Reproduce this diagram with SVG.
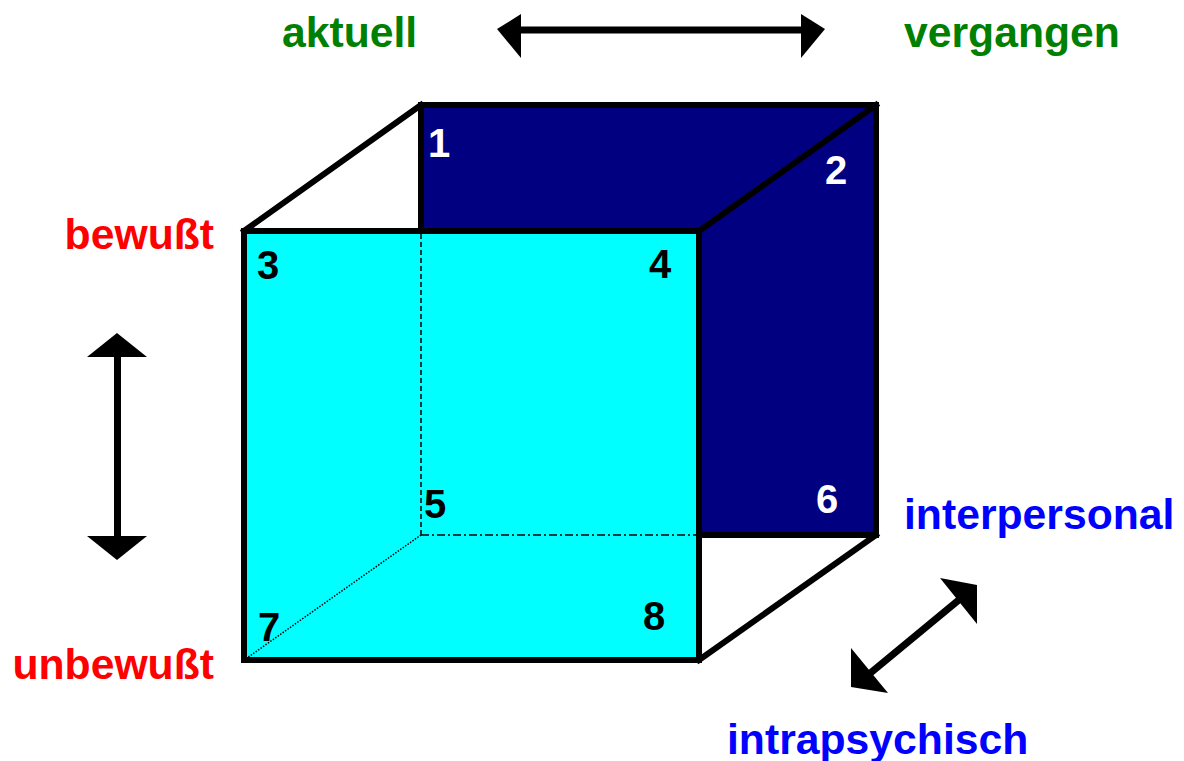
<svg xmlns="http://www.w3.org/2000/svg" width="1184" height="761" viewBox="0 0 1184 761">
<style>
.lbl{font-family:"Liberation Sans",Arial,sans-serif;font-weight:bold;font-size:42.7px}
.num{font-family:"Liberation Sans",Arial,sans-serif;font-weight:bold;font-size:40px;text-anchor:middle}
.edge{stroke:#000;stroke-width:6;fill:none;stroke-linejoin:miter;stroke-linecap:square}
.hid{stroke:#000;stroke-width:1.5;fill:none}
.arr{fill:#000}
.shaft{stroke:#000;stroke-width:7}
</style>
<rect width="1184" height="761" fill="#fff"/>
<g id="back-face">
<rect x="421" y="105" width="455" height="430" fill="#000080" stroke="#000" stroke-width="6"/>
</g>
<g id="front-face">
<rect x="244" y="231" width="455" height="429" fill="#00FFFF" stroke="#000" stroke-width="6"/>
</g>
<g id="connectors">
<line class="edge" x1="244" y1="231" x2="421" y2="105"/>
<line class="edge" x1="699" y1="231" x2="876" y2="105"/>
<line class="edge" x1="699" y1="660" x2="876" y2="535"/>
<line class="hid" x1="421" y1="234" x2="421" y2="535" stroke-dasharray="5,3"/>
<line class="hid" x1="421" y1="535" x2="696" y2="535" stroke-dasharray="8,3,2,3"/>
<line class="hid" x1="421" y1="535" x2="247" y2="658" stroke-dasharray="1.5,1.5"/>
</g>
<g id="arrow-horizontal">
<line class="shaft" x1="518" y1="30" x2="804" y2="30"/>
<polygon class="arr" points="497,29 521,14 521,58"/>
<polygon class="arr" points="825,29 801,14 801,58"/>
</g>
<g id="arrow-vertical">
<line class="shaft" x1="117.5" y1="354" x2="117.5" y2="539"/>
<polygon class="arr" points="117,333 87,357 147,357"/>
<polygon class="arr" points="117,560 87,536 147,536"/>
</g>
<g id="arrow-diagonal">
<line class="shaft" x1="960" y1="599" x2="868" y2="675"/>
<polygon class="arr" points="977,585 940,578 977,624"/>
<polygon class="arr" points="851,687 851,648 888,693"/>
</g>
<g id="labels">
<text class="lbl" x="282" y="47" fill="#008000">aktuell</text>
<text class="lbl" x="904" y="47" fill="#008000">vergangen</text>
<text class="lbl" x="214" y="249" fill="#FF0000" text-anchor="end">bewußt</text>
<text class="lbl" x="214" y="679" fill="#FF0000" text-anchor="end">unbewußt</text>
<text class="lbl" x="904" y="529" fill="#0000FF">interpersonal</text>
<text class="lbl" x="727" y="754" fill="#0000FF">intrapsychisch</text>
</g>
<g id="numbers">
<text class="num" x="439" y="157" fill="#fff">1</text>
<text class="num" x="836" y="184" fill="#fff">2</text>
<text class="num" x="268" y="279" fill="#000">3</text>
<text class="num" x="660" y="278" fill="#000">4</text>
<text class="num" x="435" y="518" fill="#000">5</text>
<text class="num" x="827" y="513" fill="#fff">6</text>
<text class="num" x="269" y="641" fill="#000">7</text>
<text class="num" x="654" y="630" fill="#000">8</text>
</g>
</svg>
